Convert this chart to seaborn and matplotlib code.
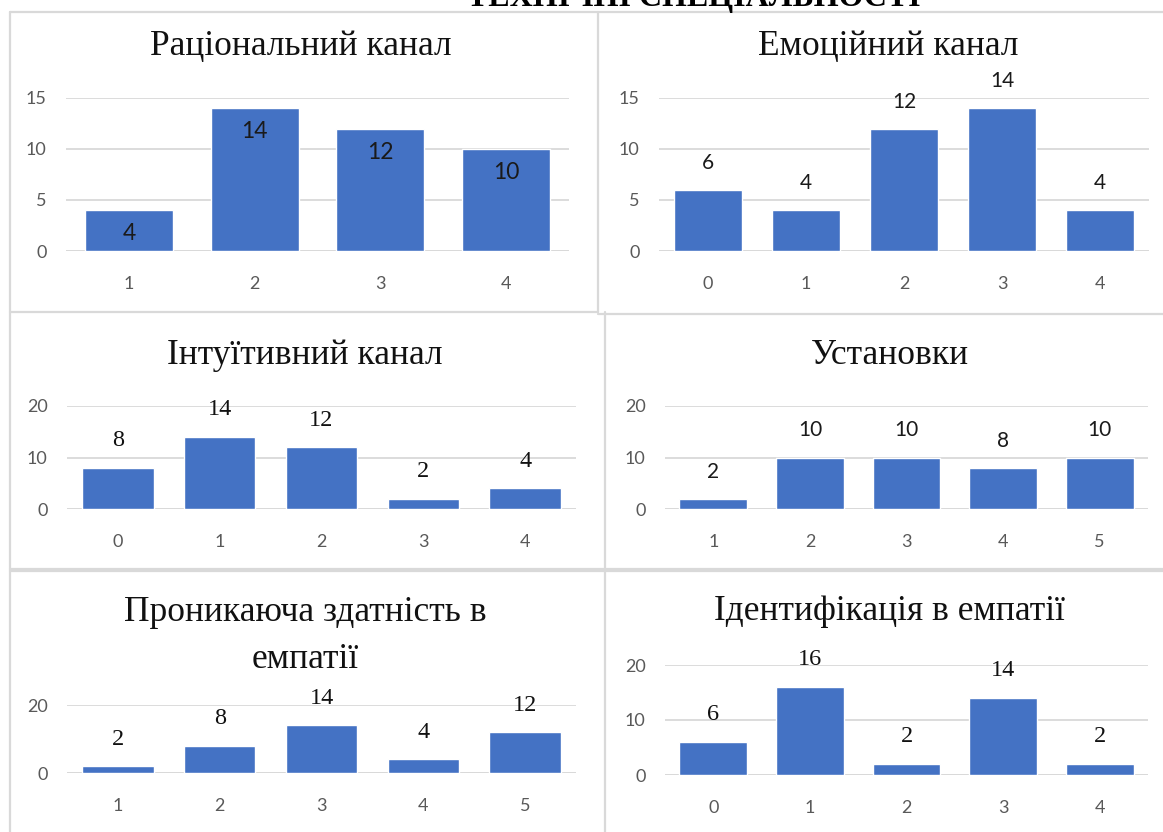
import numpy as np
import seaborn as sns
import matplotlib.pyplot as plt
from matplotlib.lines import Line2D

sns.set_style("white")
plt.rcParams['font.family'] = ['Lato', 'DejaVu Sans']

# data for the six panels
titles = ["Раціональний канал", "Емоційний канал", "Інтуїтивний канал",
          "Установки", "Проникаюча здатність в\nемпатії", "Ідентифікація в емпатії"]
cats_rational = ["1", "2", "3", "4"]
vals_rational = [4, 14, 12, 10]
cats_emotion = ["0", "1", "2", "3", "4"]
vals_emotion = [6, 4, 12, 14, 4]
cats_intuit = ["0", "1", "2", "3", "4"]
vals_intuit = [8, 14, 12, 2, 4]
cats_setup = ["1", "2", "3", "4", "5"]
vals_setup = [2, 10, 10, 8, 10]
cats_penetr = ["1", "2", "3", "4", "5"]
vals_penetr = [2, 8, 14, 4, 12]
cats_ident = ["0", "1", "2", "3", "4"]
vals_ident = [6, 16, 2, 14, 2]
header = "ТЕХНІЧНІ СПЕЦІАЛЬНОСТІ"

W, H = 1163, 832
fig = plt.figure(figsize=(W / 100, H / 100), dpi=100)


def fx(px):
    return px / W


def fy(py):
    return 1 - py / H


BAR = "#4472C4"
GRID = "#d9d9d9"
TICK = "#595959"
SERIF = ['Liberation Serif', 'DejaVu Serif']

# (cats, vals, left px, right px, top px, zero px, ymax, yticks, label style)
panels = [
    (cats_rational, vals_rational, 66, 569, 98, 251, 15, [0, 5, 10, 15], "inside"),
    (cats_emotion, vals_emotion, 659, 1149, 98, 251, 15, [0, 5, 10, 15], "sans"),
    (cats_intuit, vals_intuit, 67, 576, 406, 509, 20, [0, 10, 20], "serif"),
    (cats_setup, vals_setup, 665, 1148, 406, 509, 20, [0, 10, 20], "sans"),
    (cats_penetr, vals_penetr, 67, 576, 705, 773, 20, [0, 20], "serif"),
    (cats_ident, vals_ident, 665, 1148, 665, 775, 20, [0, 10, 20], "serif"),
]
title_pos = [(301, 47), (888, 47), (305, 356), (890, 356), (305, 636), (889, 612)]

for (cats, vals, l, r, t, z, ymax, yt, style), title, (tx, ty) in zip(panels, titles, title_pos):
    ax = fig.add_axes([fx(l), fy(z), fx(r) - fx(l), (z - t) / H])
    sns.barplot(x=cats, y=vals, ax=ax, color=BAR, saturation=1, width=0.7)
    ax.set_ylim(0, ymax)
    ax.set_xlim(-0.5, len(cats) - 0.5)
    ax.set_yticks(yt)
    ax.set_xlabel("")
    ax.set_ylabel("")
    ax.yaxis.grid(True, color=GRID, lw=1.3)
    ax.set_axisbelow(True)
    for s in ax.spines.values():
        s.set_visible(False)
    ax.tick_params(axis='y', length=0, pad=14, labelsize=13, labelcolor=TICK)
    ax.tick_params(axis='x', length=0, pad=18, labelsize=13, labelcolor=TICK)
    ax.axhline(0, color=GRID, lw=1.3, zorder=0.5)

    for bar, v in zip(ax.patches, vals):
        cx = bar.get_x() + bar.get_width() / 2
        if style == "inside":
            ax.annotate(str(v), (cx, v), xytext=(0, -17), textcoords='offset points',
                        ha='center', va='center', fontsize=16.5, color='#1a1a1a')
        elif style == "sans":
            ax.annotate(str(v), (cx, v), xytext=(0, 19.5), textcoords='offset points',
                        ha='center', va='center', fontsize=15, color='#1a1a1a',
                        annotation_clip=False)
        else:
            ax.annotate(str(v), (cx, v), xytext=(0, 19.5), textcoords='offset points',
                        ha='center', va='center', fontsize=17.5, color='#111111',
                        family=SERIF, annotation_clip=False)

    fig.text(fx(tx), fy(ty), title, ha='center', va='center', fontsize=25.5,
             family=SERIF, color='#111111', linespacing=1.55)

# header text, cut off at the top of the page as in the source screenshot
fig.text(fx(694), fy(6), header, ha='center', va='baseline', fontsize=23,
         fontweight='bold', family=SERIF, color='black')

# panel borders
border = dict(color=GRID, lw=1.6, transform=fig.transFigure)
segs = [
    ((10, 10), (12, 832)),
    ((10, 1163), (12, 12)),
    ((598, 598), (12, 312)),
    ((10, 598), (312, 312)),
    ((598, 1163), (314, 314)),
    ((605, 605), (312, 832)),
    ((10, 1163), (569, 569)),
    ((10, 1163), (571, 571)),
]
for xs, ys in segs:
    fig.add_artist(Line2D([fx(x) for x in xs], [fy(y) for y in ys], **border))

fig.savefig("out.png", dpi=100)
